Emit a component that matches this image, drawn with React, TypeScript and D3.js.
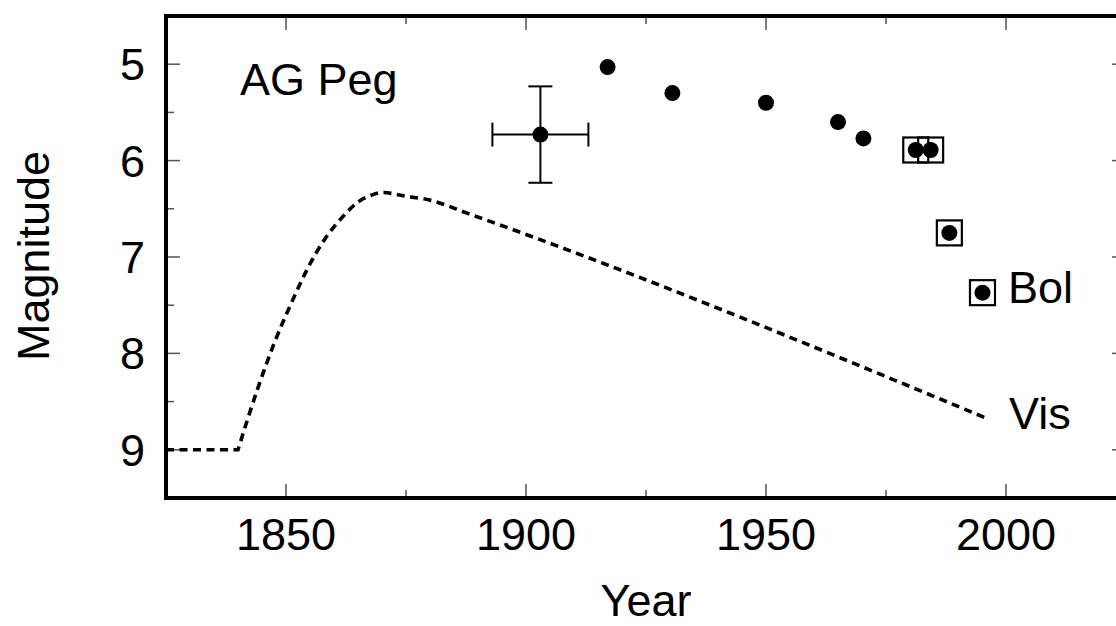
import React from "react";
import * as d3 from "d3";

const obsYears = [1903, 1917, 1930.5, 1950, 1965, 1970.3, 1981.2, 1984.3, 1988.2, 1995.1];
const obsMags = [5.73, 5.03, 5.3, 5.4, 5.6, 5.77, 5.89, 5.89, 6.75, 7.37];
const obsBoxed = [false, false, false, false, false, false, true, true, true, true];
const obsXErr = [10, 0, 0, 0, 0, 0, 0, 0, 0, 0];
const obsYErr = [0.5, 0, 0, 0, 0, 0, 0, 0, 0, 0];

// quiescent (flat) part of the visual light curve
const visFlatYears = [1825, 1840];
const visFlatMags = [9.0, 9.0];
// outburst rise and decline
const visYears = [1840, 1844, 1847.5, 1851, 1854.5, 1858, 1861.5, 1865, 1867.7, 1870, 1875, 1880, 1888, 1995.8];
const visMags = [9.0, 8.38, 7.9, 7.49, 7.12, 6.82, 6.6, 6.43, 6.36, 6.33, 6.37, 6.41, 6.55, 8.67];

const xMajorTicks = [1850, 1900, 1950, 2000];
const xMinorTicks = [1825, 1875, 1925, 1975, 2025];
const yMajorTicks = [5, 6, 7, 8, 9];
const yMinorTicks = [4.5, 5.5, 6.5, 7.5, 8.5, 9.5];

const W = 1116;
const H = 626;
const FONT = "'Liberation Sans', Arial, sans-serif";

export default function App() {
  const left = 166, right = 1126, top = 16, bottom = 498;
  const x = d3.scaleLinear().domain([1825, 2025]).range([left, right]);
  const y = d3.scaleLinear().domain([4.5, 9.5]).range([top, bottom]);

  const flatPts: [number, number][] = visFlatYears.map((yr, i) => [yr, visFlatMags[i]]);
  const risePts: [number, number][] = visYears.map((yr, i) => [yr, visMags[i]]);
  const flatLine = d3
    .line<[number, number]>()
    .x((d) => x(d[0]))
    .y((d) => y(d[1]))
    .curve(d3.curveLinear);
  const riseLine = d3
    .line<[number, number]>()
    .x((d) => x(d[0]))
    .y((d) => y(d[1]))
    .curve(d3.curveMonotoneX);
  const visPath = (flatLine(flatPts) || "") + (riseLine(risePts) || "").replace(/^M/, "L");

  const majorLen = 14;
  const minorLen = 8;
  const tickStroke = "#555";

  return (
    <svg
      width={W}
      height={H}
      style={{ position: "absolute", left: 0, top: 0, background: "#fff" }}
      fontFamily={FONT}
    >
      <rect x={0} y={0} width={W} height={H} fill="#fff" />
      {/* ticks */}
      {xMajorTicks.map((t) => (
        <g key={"xM" + t}>
          <line x1={x(t)} x2={x(t)} y1={bottom} y2={bottom - majorLen} stroke={tickStroke} strokeWidth={1.5} />
          <line x1={x(t)} x2={x(t)} y1={top} y2={top + majorLen} stroke={tickStroke} strokeWidth={1.5} />
          <text x={x(t)} y={550} textAnchor="middle" fontSize={45} fill="#000">
            {t}
          </text>
        </g>
      ))}
      {xMinorTicks.map((t) => (
        <g key={"xm" + t}>
          <line x1={x(t)} x2={x(t)} y1={bottom} y2={bottom - minorLen} stroke={tickStroke} strokeWidth={1.5} />
          <line x1={x(t)} x2={x(t)} y1={top} y2={top + minorLen} stroke={tickStroke} strokeWidth={1.5} />
        </g>
      ))}
      {yMajorTicks.map((t) => (
        <g key={"yM" + t}>
          <line x1={left} x2={left + majorLen} y1={y(t)} y2={y(t)} stroke={tickStroke} strokeWidth={1.5} />
          <line x1={right} x2={right - majorLen} y1={y(t)} y2={y(t)} stroke={tickStroke} strokeWidth={1.5} />
          <text x={145} y={y(t) + 16} textAnchor="end" fontSize={45} fill="#000">
            {t}
          </text>
        </g>
      ))}
      {yMinorTicks.map((t) => (
        <g key={"ym" + t}>
          <line x1={left} x2={left + minorLen} y1={y(t)} y2={y(t)} stroke={tickStroke} strokeWidth={1.5} />
          <line x1={right} x2={right - minorLen} y1={y(t)} y2={y(t)} stroke={tickStroke} strokeWidth={1.5} />
        </g>
      ))}

      {/* Vis dashed curve */}
      <path d={visPath} fill="none" stroke="#000" strokeWidth={3.6} strokeDasharray="8,5.5" />

      {/* observations */}
      {obsYears.map((yr, i) => {
        const cx = x(yr);
        const cy = y(obsMags[i]);
        const xe = obsXErr[i];
        const ye = obsYErr[i];
        return (
          <g key={"o" + i}>
            {xe > 0 && (
              <g stroke="#000" strokeWidth={2}>
                <line x1={x(yr - xe)} x2={x(yr + xe)} y1={cy} y2={cy} />
                <line x1={x(yr - xe)} x2={x(yr - xe)} y1={cy - 12} y2={cy + 12} />
                <line x1={x(yr + xe)} x2={x(yr + xe)} y1={cy - 12} y2={cy + 12} />
              </g>
            )}
            {ye > 0 && (
              <g stroke="#000" strokeWidth={2}>
                <line x1={cx} x2={cx} y1={y(obsMags[i] - ye)} y2={y(obsMags[i] + ye)} />
                <line x1={cx - 12} x2={cx + 12} y1={y(obsMags[i] - ye)} y2={y(obsMags[i] - ye)} />
                <line x1={cx - 12} x2={cx + 12} y1={y(obsMags[i] + ye)} y2={y(obsMags[i] + ye)} />
              </g>
            )}
            {obsBoxed[i] && (
              <rect x={cx - 12.5} y={cy - 12.5} width={25} height={25} fill="none" stroke="#000" strokeWidth={2.2} />
            )}
            <circle cx={cx} cy={cy} r={8} fill="#000" />
          </g>
        );
      })}

      {/* frame */}
      <rect x={left} y={top} width={right - left} height={bottom - top} fill="none" stroke="#000" strokeWidth={4} />

      {/* labels */}
      <text x={240} y={95} fontSize={45} fill="#000">AG Peg</text>
      <text x={1008} y={303} fontSize={45} fill="#000">Bol</text>
      <text x={1009} y={429} fontSize={45} fill="#000">Vis</text>
      <text x={646} y={616} textAnchor="middle" fontSize={45} fill="#000">Year</text>
      <text
        transform={`translate(49, 256) rotate(-90)`}
        textAnchor="middle"
        fontSize={45}
        fill="#000"
      >
        Magnitude
      </text>
    </svg>
  );
}
